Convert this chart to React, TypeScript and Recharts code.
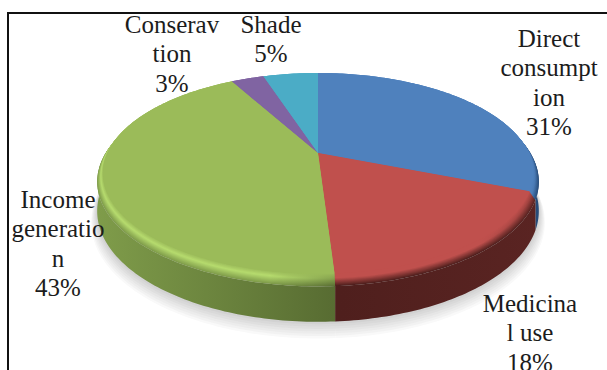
import { PieChart, Pie } from 'recharts'

// share of each use, clockwise from twelve o'clock
const categories = ['Direct consumption', 'Medicinal use', 'Income generation', 'Conservation', 'Shade']
const shares = [31, 18, 43, 3, 5]
const labelLines = [
  ['Direct', 'consumpt', 'ion'],
  ['Medicina', 'l use'],
  ['Income', 'generatio', 'n'],
  ['Conserav', 'tion'],
  ['Shade'],
]

// label anchors: centre x, first baseline
const labelX = [549, 530, 58, 172, 271]
const labelY = [47, 312, 208, 33, 33]
const LINE_GAP = 29.3

const faceColors = ['#4f81bd', '#c0504d', '#9bbb59', '#8064a2', '#4bacc6']
const wallLeft = ['#2d5588', '#4f1f1d', '#7f9c4a', '#5a4574', '#31788b']
const wallRight = ['#264a76', '#5a2422', '#566a31', '#5a4574', '#31788b']
const rimGlow = ['#4f81bd', '#c0504d', '#b6db6e', '#8064a2', '#4bacc6']
const gradientStart = [500, 340, 97, 230, 262]
const gradientEnd = [542, 540, 345, 262, 318]

const slices = categories.map((name, i) => ({ name, value: shares[i], slot: i }))

// the disc is drawn in perspective, back edge further away
const TILT = 0.2077
const SQUASH = 0.458
const WALL_DEPTH = 34
const RIM_STEPS = 14
const SHADOW_STEPS = 9

const toRad = Math.PI / 180

const project = (p: any, angle: number, r: number, drop: number) => {
  const u = Math.cos(angle * toRad) * r
  const v = Math.sin(angle * toRad) * r
  const w = 1 + TILT * v
  return [
    p.cx + (p.outerRadius * u) / w,
    p.cy + (-p.outerRadius * SQUASH * v + drop) / w,
  ]
}

const arc = (p: any, r: number, drop: number) => {
  const pts: number[][] = []
  const n = Math.max(2, Math.ceil(Math.abs(p.endAngle - p.startAngle)))
  for (let i = 0; i <= n; i++) {
    pts.push(project(p, p.startAngle + ((p.endAngle - p.startAngle) * i) / n, r, drop))
  }
  return pts
}

const toPath = (pts: number[][]) =>
  'M' + pts.map(([x, y]) => `${x.toFixed(2)} ${y.toFixed(2)}`).join('L') + 'Z'

const slotOf = (p: any) => p.slot ?? p.payload?.slot ?? p.index ?? 0

const mix = (a: string, b: string, t: number) => {
  const ch = (s: string, i: number) => parseInt(s.slice(1 + i * 2, 3 + i * 2), 16)
  const out = [0, 1, 2].map((i) =>
    Math.round(ch(a, i) + (ch(b, i) - ch(a, i)) * t).toString(16).padStart(2, '0'),
  )
  return '#' + out.join('')
}

// left end of the rim runs face -> glow -> wall, right end just face -> wall
const rimColorLeft = (slot: number, t: number) =>
  t < 0.4
    ? mix(faceColors[slot], rimGlow[slot], t / 0.4)
    : mix(rimGlow[slot], wallLeft[slot], (t - 0.4) / 0.6)
const rimColorRight = (slot: number, t: number) => mix(faceColors[slot], wallRight[slot], t)

const rimLayers = Array.from({ length: RIM_STEPS }, (_, i) => 1 - i / (RIM_STEPS - 1))
const shadowLayers = Array.from({ length: SHADOW_STEPS }, (_, i) => 1 - i / (SHADOW_STEPS - 1))

const rimRadius = (t: number) => 0.975 + 0.025 * t
const rimDrop = (t: number) => -1 + 7 * t

// soft ground shadow: opaque grey sectors, widest and palest first
const ShadowSector = (e: number) => (p: any) => {
  const apex = project(p, p.startAngle, 0, WALL_DEPTH)
  const edge = arc(p, 1 + 0.03 * e, WALL_DEPTH + 11 * e)
  return <path d={toPath([apex, ...edge])} fill={mix('#cccccc', '#ffffff', e)} />
}

const WallSector = (p: any) => {
  const top = arc(p, 1, 6)
  const bottom = arc(p, 1, WALL_DEPTH)
  return <path d={toPath([...top, ...bottom.reverse()])} fill={`url(#wall${slotOf(p)})`} />
}

const RimSector = (t: number) => (p: any) => {
  const apex = project(p, p.startAngle, 0, rimDrop(t))
  const edge = arc(p, rimRadius(t), rimDrop(t))
  return <path d={toPath([apex, ...edge])} fill={`url(#rim${Math.round(t * 100)}-${slotOf(p)})`} />
}

const FaceSector = (p: any) => {
  const apex = project(p, p.startAngle, 0, rimDrop(0))
  const edge = arc(p, rimRadius(0), rimDrop(0))
  return <path d={toPath([apex, ...edge])} fill={faceColors[slotOf(p)]} />
}

const SliceLabel = (p: any) => {
  const i = slotOf(p)
  return (
    <g key={i}>
      {[...labelLines[i], `${shares[i]}%`].map((line, k) => (
        <text
          key={k}
          x={labelX[i]}
          y={labelY[i] + k * LINE_GAP}
          textAnchor="middle"
          fill="#1c1c1c"
          style={{ fontFamily: 'Liberation Serif', fontSize: 25 }}
        >
          {line}
        </text>
      ))}
    </g>
  )
}

const pieProps = {
  data: slices,
  dataKey: 'value',
  nameKey: 'name',
  cx: 318,
  cy: 154,
  outerRadius: 216,
  startAngle: 90,
  endAngle: -270,
  stroke: 'none',
  isAnimationActive: false,
  labelLine: false,
}

export default function App() {
  return (
    <div style={{ position: 'absolute', left: 0, top: 0, width: 607, height: 370, overflow: 'hidden', background: '#fff' }}>
      {/* chart frame runs off the right and bottom */}
      <div style={{ position: 'absolute', left: 7, top: 12, width: 640, height: 400, borderLeft: '2px solid #111', borderTop: '2px solid #111' }} />
      <PieChart width={607} height={370} margin={{ top: 0, right: 0, bottom: 0, left: 0 }} style={{ position: 'absolute', left: 0, top: 0 }}>
        <defs>
          {slices.map((s) => (
            <linearGradient key={s.slot} id={`wall${s.slot}`} gradientUnits="userSpaceOnUse" x1={gradientStart[s.slot]} x2={gradientEnd[s.slot]} y1={0} y2={0}>
              <stop offset="0" stopColor={wallLeft[s.slot]} />
              <stop offset="1" stopColor={wallRight[s.slot]} />
            </linearGradient>
          ))}
          {rimLayers.flatMap((t) =>
            slices.map((s) => (
              <linearGradient key={`${t}-${s.slot}`} id={`rim${Math.round(t * 100)}-${s.slot}`} gradientUnits="userSpaceOnUse" x1={gradientStart[s.slot]} x2={gradientEnd[s.slot]} y1={0} y2={0}>
                <stop offset="0" stopColor={rimColorLeft(s.slot, t)} />
                <stop offset="0.7" stopColor={rimColorLeft(s.slot, t)} />
                <stop offset="1" stopColor={rimColorRight(s.slot, t)} />
              </linearGradient>
            )),
          )}
        </defs>
        {shadowLayers.map((e) => (
          <Pie key={`shadow-${e}`} {...pieProps} shape={ShadowSector(e)} />
        ))}
        <Pie key="wall" {...pieProps} shape={WallSector} />
        {rimLayers.map((t) => (
          <Pie key={`rim-${t}`} {...pieProps} shape={RimSector(t)} />
        ))}
        <Pie key="face" {...pieProps} shape={FaceSector} label={SliceLabel} />
      </PieChart>
    </div>
  )
}
